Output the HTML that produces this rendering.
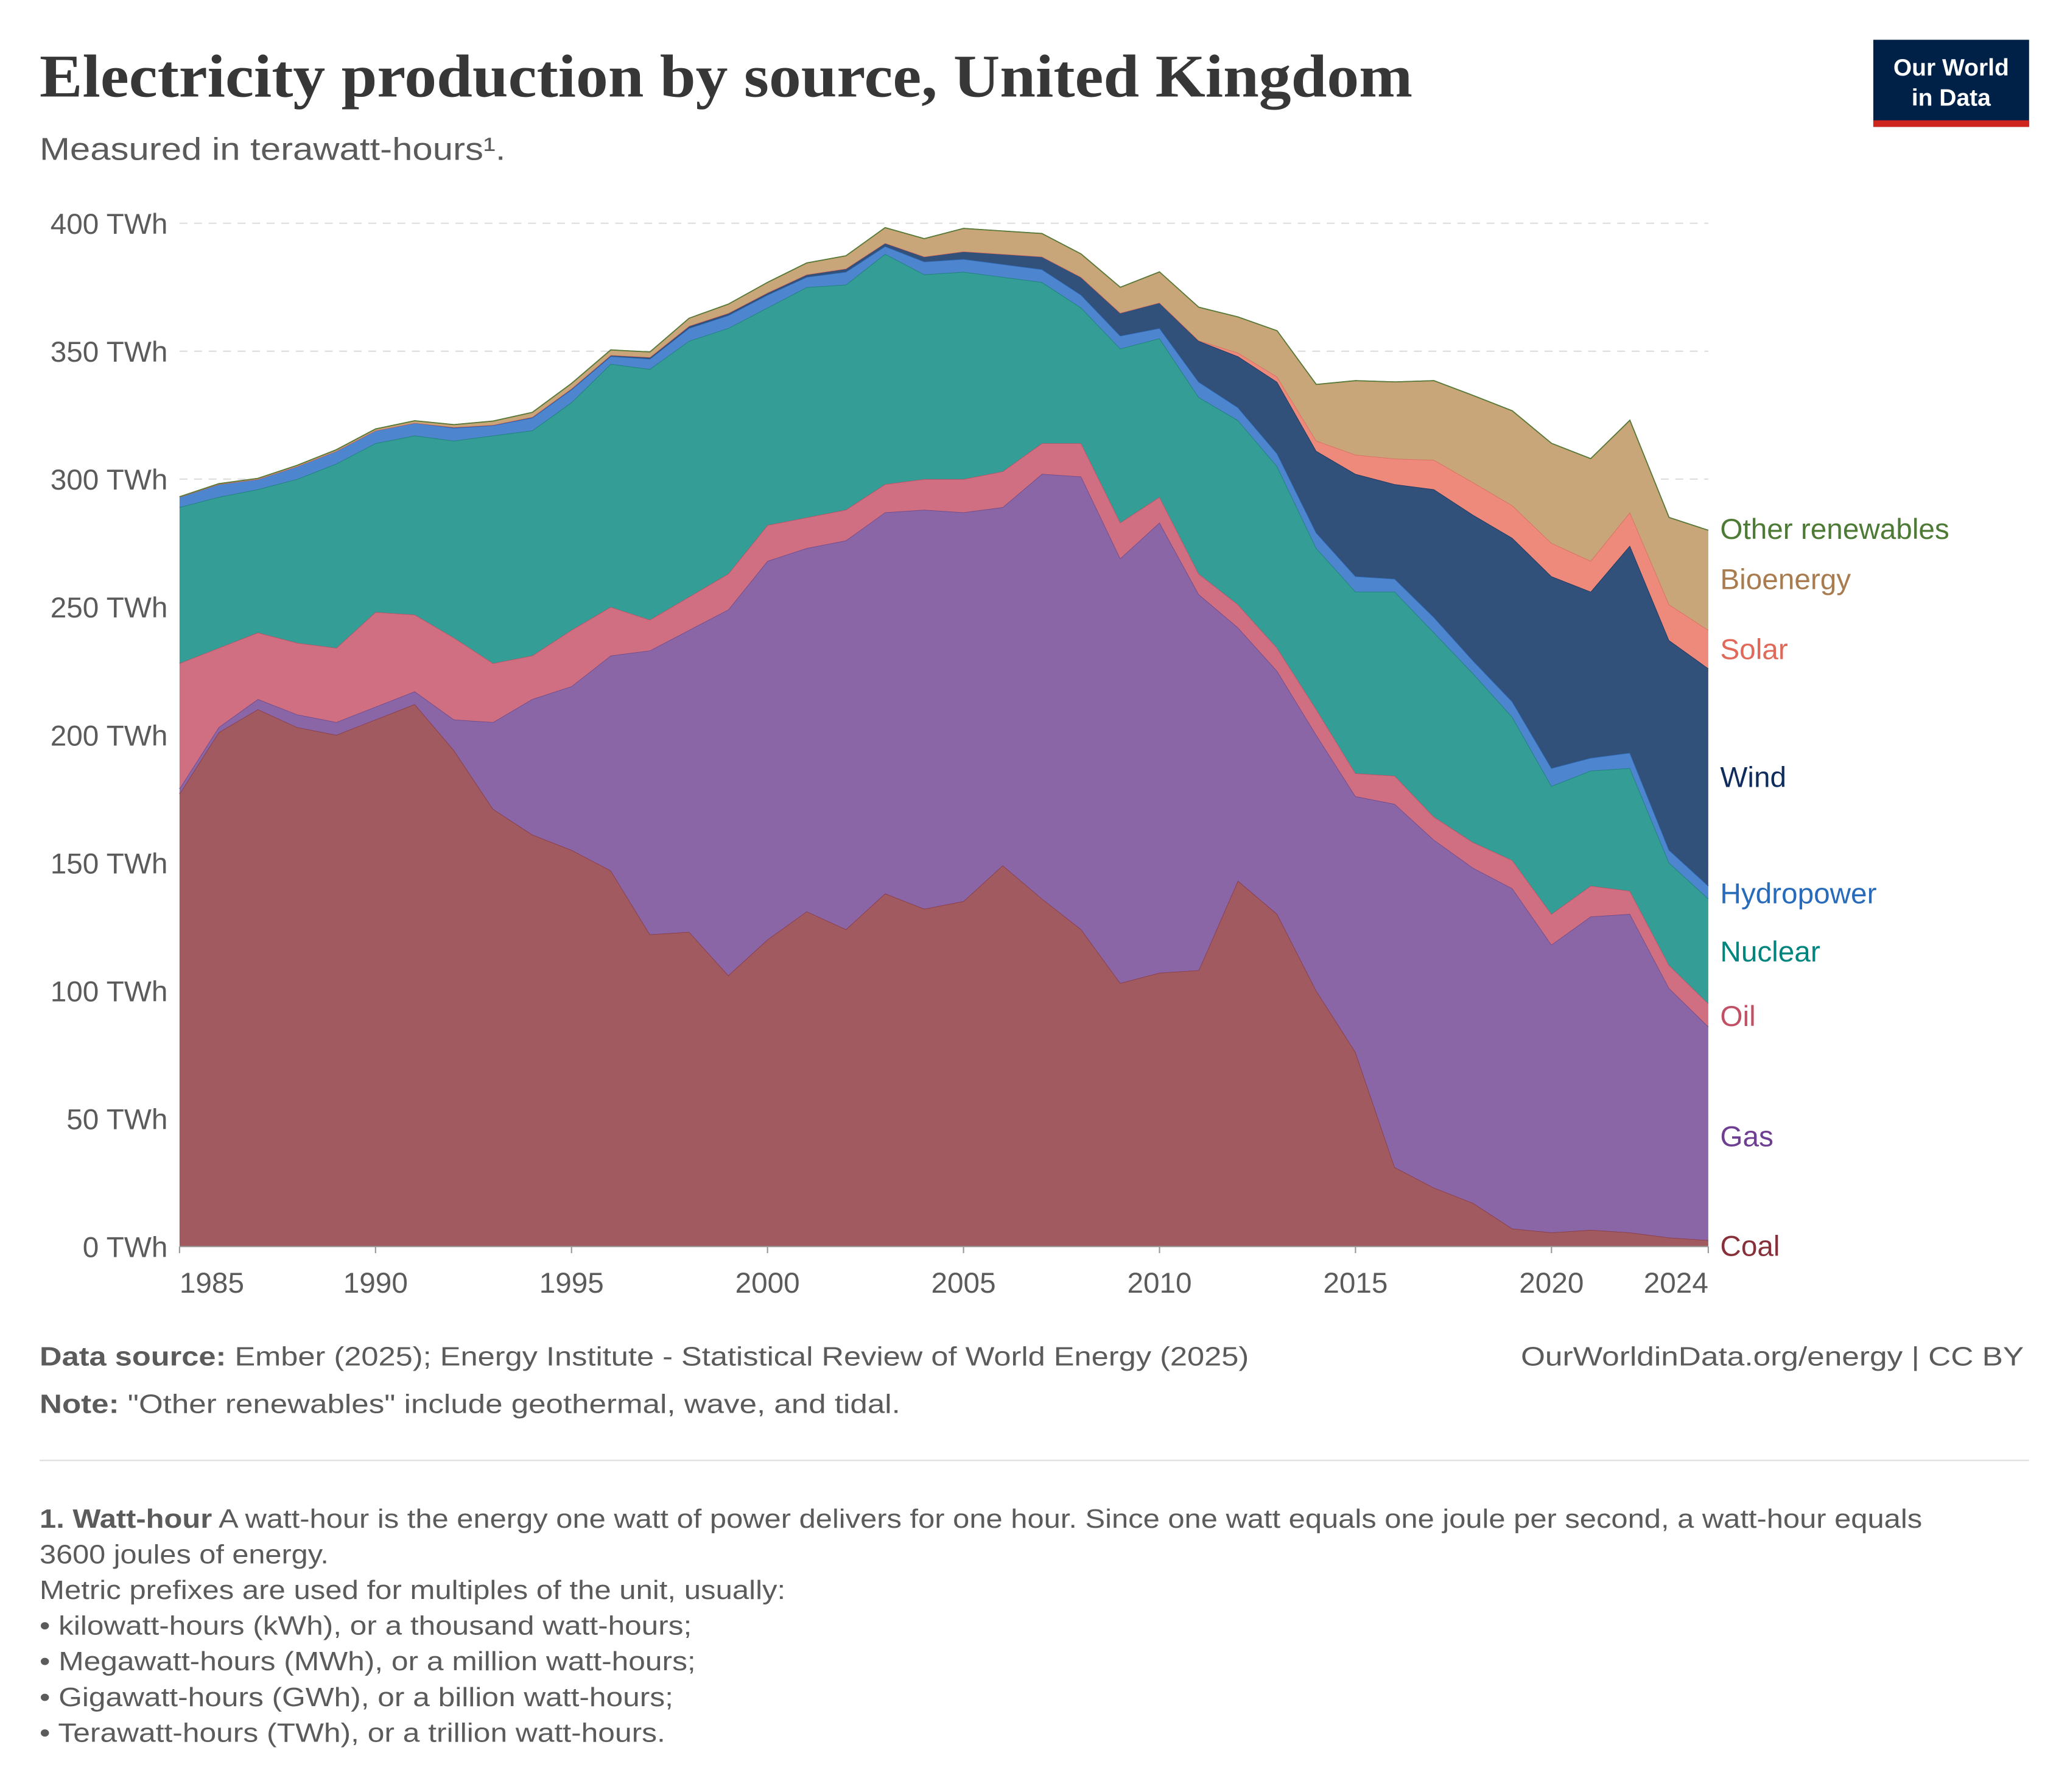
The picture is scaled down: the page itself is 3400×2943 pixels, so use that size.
<!DOCTYPE html>
<html><head><meta charset="utf-8"><style>
html,body{margin:0;padding:0;background:#fff;}
svg{display:block;}
text{font-family:"Liberation Sans",sans-serif;}
</style></head><body>
<svg id="chart" width="3400" height="2943" viewBox="0 0 1568 1357" xmlns="http://www.w3.org/2000/svg">
<text x="30" y="73" style="font-family:'Liberation Serif',serif" font-weight="bold" font-size="46" fill="#373737" textLength="1040" lengthAdjust="spacingAndGlyphs">Electricity production by source, United Kingdom</text>
<text x="30" y="121" font-size="24" fill="#5b5b5b" textLength="353" lengthAdjust="spacingAndGlyphs">Measured in terawatt-hours¹.</text>
<g>
<rect x="1419" y="30" width="118" height="66" fill="#002147"/>
<rect x="1419" y="91" width="118" height="5" fill="#ce261e"/>
<text x="1478" y="57" text-anchor="middle" font-size="18" font-weight="bold" fill="#fff">Our World</text>
<text x="1478" y="80" text-anchor="middle" font-size="18" font-weight="bold" fill="#fff">in Data</text>
</g>
<g id="grid"></g><g id="areas"></g><g id="axes"></g><g id="labels"></g>
<text x="30" y="1034" font-size="20" fill="#5b5b5b" textLength="916" lengthAdjust="spacingAndGlyphs"><tspan font-weight="bold">Data source:</tspan> Ember (2025); Energy Institute - Statistical Review of World Energy (2025)</text>
<text x="1533" y="1034" text-anchor="end" font-size="20" fill="#5b5b5b" textLength="381" lengthAdjust="spacingAndGlyphs">OurWorldinData.org/energy | CC BY</text>
<text x="30" y="1070" font-size="20" fill="#5b5b5b" textLength="652" lengthAdjust="spacingAndGlyphs"><tspan font-weight="bold">Note:</tspan> "Other renewables" include geothermal, wave, and tidal.</text>
<line x1="30" x2="1537" y1="1106" y2="1106" stroke="#ddd"/>
<g font-size="20" fill="#5b5b5b">
<text x="30" y="1157" textLength="1426" lengthAdjust="spacingAndGlyphs"><tspan font-weight="bold">1. Watt-hour</tspan> A watt-hour is the energy one watt of power delivers for one hour. Since one watt equals one joule per second, a watt-hour equals</text>
<text x="30" y="1184" textLength="219" lengthAdjust="spacingAndGlyphs">3600 joules of energy.</text>
<text x="30" y="1211" textLength="565" lengthAdjust="spacingAndGlyphs">Metric prefixes are used for multiples of the unit, usually:</text>
<text x="30" y="1238" textLength="494" lengthAdjust="spacingAndGlyphs">• kilowatt-hours (kWh), or a thousand watt-hours;</text>
<text x="30" y="1265" textLength="497" lengthAdjust="spacingAndGlyphs">• Megawatt-hours (MWh), or a million watt-hours;</text>
<text x="30" y="1292" textLength="480" lengthAdjust="spacingAndGlyphs">• Gigawatt-hours (GWh), or a billion watt-hours;</text>
<text x="30" y="1319" textLength="474" lengthAdjust="spacingAndGlyphs">• Terawatt-hours (TWh), or a trillion watt-hours.</text>
</g>
</svg>
<script>
const years=[];for(let y=1985;y<=2024;y++)years.push(y);
const coal=[177,201,210,203,200,206,212,194,171,161,155,147,122,123,106,120,131,124,138,132,135,149,136,124,103,107,108,143,130,100,76,31,23,17,7,5.5,6.5,5.5,3.5,2.5];
const gas=[2,2,4,5,5,5,5,12,34,53,64,84,111,118,143,148,142,152,149,156,152,140,166,177,166,176,147,99,95,100,100,142,136,131,133,112.5,122.5,124.5,97.5,83.5];
const oil=[49,31,26,28,29,37,30,32,23,17,22,19,12,13,14,14,12,12,11,12,13,14,12,13,14,10,8,9,9,10,9,11,9,10,11,12,12,9,9,9];
const nuclear=[61,59,56,64,72,66,70,77,89,88,89,95,98,100,96,85,90,88,90,80,81,76,63,53,68,62,69,72,71,63,71,72,72,66,56,50,45,48,40,41];
const hydro=[4,5,4,5,5,5,5,5,4,5,5,3,4,5,5,5,4,5,3,5,5,5,5,5,5,4,6,5,5,6,6,5,6,5,6,7,5,6,5,5];
const wind=[0,0,0,0,0,0,0,0.3,0.2,0.3,0.4,0.5,0.7,0.9,0.9,0.9,1,1.3,1.3,2,3,4,5,7,9,10,16,20,28,32,40,37,50,57,64,75,65,81,82,85];
const solar=[0,0,0,0,0,0,0,0,0,0,0,0,0,0,0,0,0,0,0,0,0,0,0,0,0,0,0.2,1.4,2,4,7.5,10,11.5,12.7,12.7,13,12,13,14,15];
const bio=[0.1,0.2,0.3,0.4,0.5,0.6,0.8,1,1.5,1.8,2,2,2,3,3.5,4,4.5,5,6,7,9,9,9,9,10,12,13,14,18,22,29,30,31,34,37,39,40,36,34,39];
const other=[0,0,0,0,0,0,0,0,0,0,0,0,0,0,0,0,0,0,0,0,0,0,0,0,0,0,0,0,0,0,0,0,0,0,0,0,0,0,0,0];
const yTicks=[0,50,100,150,200,250,300,350,400];
const xTicks=[1985,1990,1995,2000,2005,2010,2015,2020,2024];
const series=[
 {name:"Coal",v:coal,fill:"#a05a60",stroke:"#8a3c45",lc:"#883039",ly:943},
 {name:"Gas",v:gas,fill:"#8b66a7",stroke:"#6d4b8c",lc:"#6d3e91",ly:860},
 {name:"Oil",v:oil,fill:"#cf6f81",stroke:"#b95468",lc:"#c15065",ly:769},
 {name:"Nuclear",v:nuclear,fill:"#339d96",stroke:"#1e8079",lc:"#00847e",ly:720},
 {name:"Hydropower",v:hydro,fill:"#4d86ce",stroke:"#2f68b3",lc:"#286bbb",ly:676},
 {name:"Wind",v:wind,fill:"#31517a",stroke:"#1b365e",lc:"#0f2c5c",ly:588},
 {name:"Solar",v:solar,fill:"#ee8a7b",stroke:"#d86f5f",lc:"#e0695a",ly:491},
 {name:"Bioenergy",v:bio,fill:"#c8a67a",stroke:"#a98655",lc:"#a87c4e",ly:438},
 {name:"Other renewables",v:other,fill:"#6b8e4a",stroke:"#557a38",lc:"#4d7a35",ly:400}
];
const X0=136,X1=1294,Y0=944,Y1=169;
const xs=y=>X0+(y-1985)/(2024-1985)*(X1-X0);
const ys=v=>Y0-v/400*(Y0-Y1);
const NS="http://www.w3.org/2000/svg";
function mk(tag,attrs,parent){const e=document.createElementNS(NS,tag);for(const k in attrs)e.setAttribute(k,attrs[k]);parent.appendChild(e);return e;}
const grid=document.getElementById('grid'),axes=document.getElementById('axes'),areas=document.getElementById('areas'),labels=document.getElementById('labels');
yTicks.forEach(t=>{
 if(t>0){const l=mk('line',{x1:X0,x2:X1,y1:ys(t),y2:ys(t),stroke:'#ddd','stroke-dasharray':'6,5'},grid);
 
 }
 const tx=mk('text',{x:127,y:ys(t)+8,'text-anchor':'end','font-size':22,fill:'#5b5b5b'},axes);tx.textContent=t+' TWh';
 
 
});
let base=years.map(()=>0);
series.forEach(s=>{
 const top=base.map((b,i)=>b+s.v[i]);
 let d='M'+years.map((y,i)=>xs(y)+','+ys(top[i])).join(' L');
 for(let i=years.length-1;i>=0;i--)d+=' L'+xs(years[i])+','+ys(base[i]);
 d+='Z';
 const p=mk('path',{d:d,fill:s.fill,stroke:'none'},areas);
 
 
 const ln=mk('path',{d:'M'+years.map((y,i)=>xs(y)+','+ys(top[i])).join(' L'),fill:'none',stroke:s.stroke,'stroke-width':0.8},areas);
 
 
 const lb=mk('text',{x:1303,y:s.ly+8,'font-size':22,fill:s.lc},labels);lb.textContent=s.name;
 
 
 base=top;
});
const ax=mk('line',{x1:X0,x2:X1,y1:Y0,y2:Y0,stroke:'#999'},axes);


xTicks.forEach((t,i)=>{
 const tk=mk('line',{x1:xs(t),x2:xs(t),y1:Y0,y2:Y0+5,stroke:'#999'},axes);
 
 
 const anchor=i===0?'start':(i===xTicks.length-1?'end':'middle');
 const tx=mk('text',{x:xs(t),y:979,'text-anchor':anchor,'font-size':22,fill:'#5b5b5b'},axes);tx.textContent=t;
 
 
});
</script>
</body></html>
